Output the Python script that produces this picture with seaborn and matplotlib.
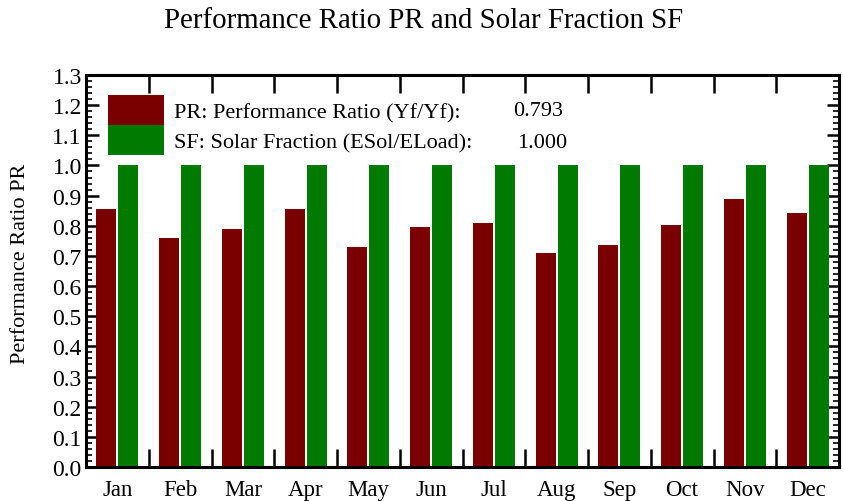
import matplotlib
matplotlib.use("Agg")
import matplotlib.pyplot as plt
import seaborn as sns
import pandas as pd
import numpy as np
from matplotlib.patches import Patch
from matplotlib.ticker import MultipleLocator

months = ["Jan", "Feb", "Mar", "Apr", "May", "Jun", "Jul", "Aug", "Sep", "Oct", "Nov", "Dec"]
pr_values = [0.854, 0.758, 0.790, 0.854, 0.730, 0.797, 0.809, 0.710, 0.737, 0.802, 0.888, 0.842]
sf_values = [1.0, 1.0, 1.0, 1.0, 1.0, 1.0, 1.0, 1.0, 1.0, 1.0, 1.0, 1.0]
series_names = ["PR", "SF"]
legend_labels = ["PR: Performance Ratio (Yf/Yf):", "SF: Solar Fraction (ESol/ELoad):"]
legend_values = ["0.793", "1.000"]

df = pd.DataFrame({
    "Month": months * 2,
    "Value": pr_values + sf_values,
    "Series": [series_names[0]] * len(months) + [series_names[1]] * len(months),
})

sns.set_theme(style="white")
plt.rcParams["font.family"] = ["Liberation Serif", "DejaVu Serif"]
plt.rcParams["text.color"] = "black"
plt.rcParams["axes.labelcolor"] = "black"
plt.rcParams["xtick.color"] = "black"
plt.rcParams["ytick.color"] = "black"

red = "#7a0000"
green = "#007a00"

fig = plt.figure(figsize=(8.43, 5.02), dpi=100)
ax = fig.add_axes([86 / 843, 1 - 468 / 502, (839 - 86) / 843, (468 - 76) / 502])

sns.barplot(data=df, x="Month", y="Value", hue="Series", order=months,
            palette=[red, green], saturation=1, width=0.7, gap=0.08, ax=ax,
            legend=False, edgecolor="none", linewidth=0)

ax.set_xlim(-0.5, 11.5)
ax.set_ylim(0, 1.3)
ax.set_xlabel("")
ax.set_ylabel("Performance Ratio PR", fontsize=16)
ax.yaxis.set_label_coords((30 - 86) / 753, (468 - 263.5) / 392)

ax.set_xticks(np.arange(len(months)))
ax.set_xticklabels(months, fontsize=16.5)
ax.set_xticks(np.arange(len(months) - 1) + 0.5, minor=True)
ax.tick_params(axis="x", which="major", length=0, pad=9)
ax.tick_params(axis="x", which="minor", direction="in", length=13, width=1.8,
               top=True, bottom=True)

ax.yaxis.set_major_locator(MultipleLocator(0.1))
ax.yaxis.set_minor_locator(MultipleLocator(0.02))
ax.set_yticks(ax.get_yticks())
ax.set_yticklabels([f"{v:.1f}" for v in ax.get_yticks()], fontsize=17)
ax.tick_params(axis="y", which="major", direction="in", length=9, width=1.8,
               left=True, right=True, pad=3)
ax.tick_params(axis="y", which="minor", direction="in", length=4, width=1.2,
               left=True, right=True)
ax.set_ylim(0, 1.3)

for s in ax.spines.values():
    s.set_visible(True)
    s.set_color("black")
    s.set_linewidth(2.2)

handles = [Patch(facecolor=red, edgecolor="none"), Patch(facecolor=green, edgecolor="none")]
leg = ax.legend(handles, legend_labels, loc="upper left",
                bbox_to_anchor=((108 - 86) / 753, (468 - 96) / 392),
                frameon=False, handlelength=2.5, handleheight=1.7, labelspacing=0.0,
                handletextpad=0.45, borderpad=0.0, borderaxespad=0.0, fontsize=16)

ax.text((513 - 86) / 753, (468 - 112) / 392, legend_values[0], transform=ax.transAxes,
        fontsize=16, va="center", ha="left")
ax.text((517 - 86) / 753, (468 - 143) / 392, legend_values[1], transform=ax.transAxes,
        fontsize=16, va="center", ha="left")

fig.suptitle("Performance Ratio PR and Solar Fraction SF", y=1 - 21 / 502, x=0.502,
             va="center", fontsize=20.8)

fig.savefig("out.png", dpi=100)
